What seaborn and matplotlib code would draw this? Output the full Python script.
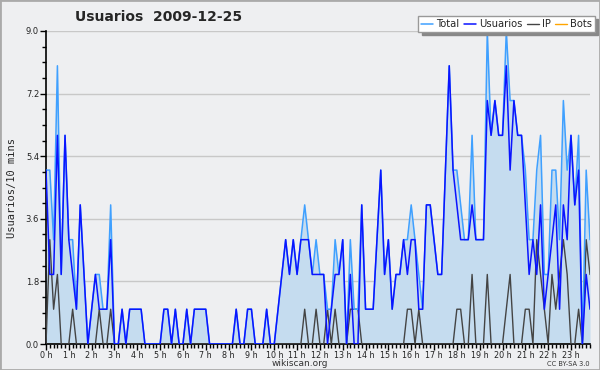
import numpy as np
import pandas as pd
import matplotlib
matplotlib.use("Agg")
import matplotlib.pyplot as plt
import seaborn as sns
from matplotlib.ticker import MultipleLocator
from matplotlib.patches import Rectangle

# ---- data (users per 10 minutes, 144 slots) ----
usuarios = [5, 2, 2, 6, 2, 6, 3, 2, 1, 4, 2, 0, 1, 2, 1, 1, 1, 3, 0, 0,
            1, 0, 1, 1, 1, 1, 0, 0, 0, 0, 0, 1, 1, 0, 1, 0, 0, 1, 0, 1,
            1, 1, 1, 0, 0, 0, 0, 0, 0, 0, 1, 0, 0, 1, 1, 0, 0, 0, 1, 0,
            0, 1, 2, 3, 2, 3, 2, 3, 3, 3, 2, 2, 2, 2, 0, 1, 2, 2, 3, 0,
            2, 0, 0, 4, 1, 1, 1, 3, 5, 2, 3, 1, 2, 2, 3, 2, 3, 3, 1, 1,
            4, 4, 3, 2, 2, 5, 8, 5, 4, 3, 3, 3, 4, 3, 3, 3, 7, 6, 7, 6,
            6, 8, 5, 7, 6, 6, 4, 2, 3, 2, 4, 1, 2, 3, 4, 1, 4, 3, 6, 4,
            5, 0, 2, 1]
ip = [0, 3, 1, 2, 0, 0, 0, 1, 0, 0, 0, 0, 0, 0, 1, 0, 0, 1, 0, 0,
      0, 0, 0, 0, 0, 0, 0, 0, 0, 0, 0, 0, 0, 0, 0, 0, 0, 0, 0, 0,
      0, 0, 0, 0, 0, 0, 0, 0, 0, 0, 0, 0, 0, 0, 0, 0, 0, 0, 0, 0,
      0, 0, 0, 0, 0, 0, 0, 0, 1, 0, 0, 1, 0, 0, 1, 0, 1, 0, 0, 0,
      1, 1, 1, 0, 0, 0, 0, 0, 0, 0, 0, 0, 0, 0, 0, 1, 1, 0, 1, 0,
      0, 0, 0, 0, 0, 0, 0, 0, 1, 1, 0, 0, 2, 0, 0, 0, 2, 0, 0, 0,
      0, 1, 2, 0, 0, 0, 1, 1, 0, 3, 2, 1, 0, 2, 1, 2, 3, 2, 0, 0,
      1, 0, 3, 2]
total = [5, 5, 3, 8, 2, 6, 3, 3, 1, 4, 2, 0, 1, 2, 2, 1, 1, 4, 0, 0,
         1, 0, 1, 1, 1, 1, 0, 0, 0, 0, 0, 1, 1, 0, 1, 0, 0, 1, 0, 1,
         1, 1, 1, 0, 0, 0, 0, 0, 0, 0, 1, 0, 0, 1, 1, 0, 0, 0, 1, 0,
         0, 1, 2, 3, 2, 3, 2, 3, 4, 3, 2, 3, 2, 2, 1, 1, 3, 2, 3, 0,
         3, 1, 1, 4, 1, 1, 1, 3, 5, 2, 3, 1, 2, 2, 3, 3, 4, 3, 2, 1,
         4, 4, 3, 2, 2, 5, 8, 5, 5, 4, 3, 3, 6, 3, 3, 3, 9, 6, 7, 6,
         6, 9, 7, 7, 6, 6, 5, 3, 3, 5, 6, 2, 2, 5, 5, 3, 7, 5, 6, 4,
         6, 0, 5, 3]
bots = [0] * 144
hour_labels = [f"{h} h" for h in range(24)]
y_ticks = [0.0, 1.8, 3.6, 5.4, 7.2, 9.0]

n = len(total)
hours = [i / 6 for i in range(n)]
df = pd.DataFrame({"hora": hours, "Total": total, "Usuarios": usuarios,
                   "IP": ip, "Bots": bots})

BG = "#eeeff1"
sns.set_theme(style="white", rc={"axes.facecolor": BG, "figure.facecolor": BG})
plt.rcParams["font.family"] = ["DejaVu Sans"]

fig = plt.figure(figsize=(6, 3.7), dpi=100)
ax = fig.add_axes([46 / 600, 1 - 344 / 370, 544 / 600, 313 / 370])
ax.set_facecolor(BG)

ax.fill_between(df["hora"], 0, df["Total"], color="#c5dcef", zorder=1, lw=0)
sns.lineplot(data=df, x="hora", y="Bots", ax=ax, color="#ffa500", lw=1, zorder=2, label="Bots")
sns.lineplot(data=df, x="hora", y="IP", ax=ax, color="#444444", lw=1, zorder=3, label="IP")
sns.lineplot(data=df, x="hora", y="Total", ax=ax, color="#3fa0ff", lw=1.1, zorder=4, label="Total")
sns.lineplot(data=df, x="hora", y="Usuarios", ax=ax, color="#0a14ff", lw=1.1, zorder=5, label="Usuarios")
ax.get_legend().remove()

ax.set_xlim(0, hours[-1])
ax.set_ylim(0, 9.0)
ax.set_xticks(range(24))
ax.set_xticklabels(hour_labels, fontsize=5.8, color="#222222")
ax.xaxis.set_minor_locator(MultipleLocator(1 / 6))
ax.set_yticks(y_ticks)
ax.set_yticklabels([f"{v:.1f}" for v in y_ticks], fontsize=6, color="#222222")
ax.yaxis.set_minor_locator(MultipleLocator(0.45))
ax.tick_params(axis="both", which="major", direction="out", length=4, width=1, color="black", pad=1)
ax.tick_params(axis="both", which="minor", direction="out", length=3, width=1, color="black")
ax.tick_params(axis="x", which="both", bottom=True)
ax.tick_params(axis="y", which="both", left=True)
ax.grid(axis="y", color="#c8c8c8", lw=1, zorder=0)
ax.set_axisbelow(True)
for s in ["top", "right"]:
    ax.spines[s].set_visible(False)
for s in ["left", "bottom"]:
    ax.spines[s].set_color("black")
    ax.spines[s].set_linewidth(1.2)
ax.set_xlabel("")
ax.set_ylabel("Usuarios/10 mins", fontsize=7.5, family="DejaVu Sans Mono", labelpad=6)

fig.text(75 / 600, 1 - 17 / 370, "Usuarios  2009-12-25", fontsize=10, fontweight="bold",
         va="center", ha="left")

handles, labels = ax.get_legend_handles_labels()
order = ["Total", "Usuarios", "IP", "Bots"]
hmap = dict(zip(labels, handles))
leg_kw = dict(loc="upper right", bbox_to_anchor=(595 / 600, 1 - 16 / 370), ncol=4,
              fontsize=7.2, frameon=True, fancybox=False, handlelength=1.2,
              handletextpad=0.3, columnspacing=0.45, borderpad=0.3, borderaxespad=0)
try:
    leg = fig.legend([hmap[k] for k in order], order,
                     shadow={"ox": 2.5, "oy": -2.5, "color": "#888888", "alpha": 1.0}, **leg_kw)
except Exception:
    leg = fig.legend([hmap[k] for k in order], order, shadow=False, **leg_kw)
leg.get_frame().set_edgecolor("#999999")
leg.get_frame().set_linewidth(1.0)
leg.get_frame().set_facecolor("white")

fig.text(0.5, 1 - 363 / 370, "wikiscan.org", fontsize=6.5, ha="center", va="center", color="#333333")
fig.text(590 / 600, 1 - 364 / 370, "CC BY-SA 3.0", fontsize=4.8, ha="right", va="center", color="#333333")
fig.patches.append(Rectangle((0, 0), 1, 1, transform=fig.transFigure, fill=False,
                             edgecolor="#aaaaaa", lw=2))

fig.savefig("out.png", dpi=100, facecolor=BG)
